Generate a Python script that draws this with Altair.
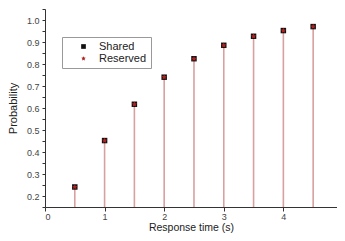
import altair as alt
import pandas as pd

response_time = [0.5, 1.0, 1.5, 2.0, 2.5, 3.0, 3.5, 4.0, 4.5]
shared = [0.241, 0.452, 0.617, 0.740, 0.824, 0.885, 0.926, 0.952, 0.970]
reserved = [0.241, 0.452, 0.617, 0.740, 0.824, 0.885, 0.926, 0.952, 0.970]
series_names = ["Shared", "Reserved"]
y_ticks = [0.15, 0.2, 0.25, 0.3, 0.35, 0.4, 0.45, 0.5, 0.55, 0.6, 0.65, 0.7,
           0.75, 0.8, 0.85, 0.9, 0.95, 1.0, 1.05]
x_ticks = [0, 1, 2, 3, 4, 5]

rows = []
for name, vals in zip(series_names, [shared, reserved]):
    for x, v in zip(response_time, vals):
        rows.append({"x": x, "p": v, "series": name})
df = pd.DataFrame(rows)
stems = pd.DataFrame({"x": response_time, "p": shared})

FONT = "Liberation Sans"
MAJOR = "abs(datum.value*10 - round(datum.value*10)) < 0.01"
STAR = "M0,-1L0.29,-0.4L0.95,-0.31L0.47,0.15L0.59,0.81L0,0.5L-0.59,0.81L-0.47,0.15L-0.95,-0.31L-0.29,-0.4Z"

xs = alt.Scale(domain=[0, 4.9], nice=False)
ys = alt.Scale(domain=[0.15, 1.05], nice=False, zero=False)

x_axis = alt.Axis(values=x_ticks, format="d", title="Response time (s)", grid=False,
                  labelFont=FONT, labelFontSize=9, labelColor="#444",
                  titleFont=FONT, titleFontSize=10.5, titleFontWeight="normal",
                  titleColor="#222", titlePadding=1, tickSize=4,
                  domainColor="#333", tickColor="#333", labelPadding=1)
y_axis = alt.Axis(values=y_ticks, title="Probability", grid=False,
                  labelOverlap=False, labelFlush=False,
                  labelExpr=MAJOR + " ? format(datum.value, '.1f') : ''",
                  tickSize=3,
                  labelFont=FONT, labelFontSize=9, labelColor="#444",
                  titleFont=FONT, titleFontSize=11, titleFontWeight="normal",
                  titleColor="#222", titlePadding=8,
                  domainColor="#333", tickColor="#333", labelPadding=3)

stem_layer = alt.Chart(stems).mark_rule(color="#d9a0a0", strokeWidth=1.6).encode(
    x=alt.X("x:Q", scale=xs, axis=x_axis),
    y=alt.Y("p:Q", scale=ys, axis=y_axis),
    y2=alt.datum(0.15),
)

leg = alt.Legend(title=None, orient="none", legendX=17, legendY=28,
                 strokeColor="#999", fillColor="white", padding=4,
                 labelFont=FONT, labelFontSize=11, labelColor="#222",
                 symbolSize=22, symbolOffset=12, rowPadding=0, labelOffset=10)

points = alt.Chart(df).mark_point(filled=True, opacity=1, size=30).encode(
    x=alt.X("x:Q", scale=xs, axis=x_axis),
    y=alt.Y("p:Q", scale=ys, axis=y_axis),
    shape=alt.Shape("series:N", scale=alt.Scale(domain=series_names, range=["square", STAR]), legend=leg),
    color=alt.Color("series:N", scale=alt.Scale(domain=series_names, range=["#111111", "#b22222"]), legend=leg),
)

chart = (stem_layer + points).properties(
    width=292, height=198,
    autosize=alt.AutoSizeParams(type="none"),
    padding={"left": 37, "top": 1, "right": 0, "bottom": 26},
).configure_view(stroke=None)

chart.save("out.html", embed_options={"renderer": "svg", "actions": False})
